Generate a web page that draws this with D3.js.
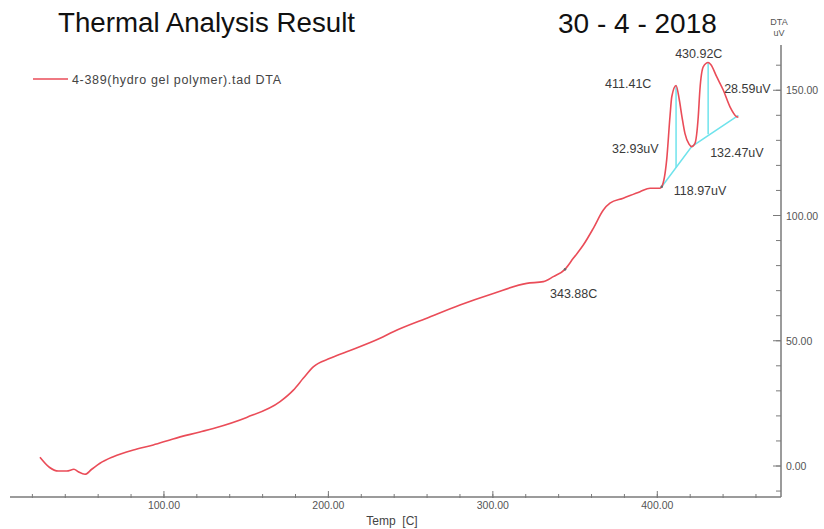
<!DOCTYPE html>
<html>
<head>
<meta charset="utf-8">
<script src="https://cdn.jsdelivr.net/npm/d3@7"></script>
<style>
  html, body { margin: 0; padding: 0; background: #fff; }
  svg { display: block; font-family: "Liberation Sans", Arial, sans-serif; }
</style>
</head>
<body>
<svg id="chart" width="824" height="529"></svg>
<script>
// ---- data ----
const temp = [24.6, 30.3, 35.8, 40.9, 45.3, 47.9, 52.0, 56.1, 61.1, 69.2, 81.4, 93.5, 105.5, 121.9, 130.0,
  150.3, 170.6, 178.7, 184.7, 190.8, 201.0, 211.1, 231.4, 239.5, 259.8, 280.0, 300.3, 320.6, 330.7, 336.8,
  343.88, 348.9, 355.0, 361.1, 367.2, 371.2, 379.3, 389.5, 395.6, 401.6, 402.7, 405.7, 407.7, 408.8, 411.41,
  413.3, 415.0, 416.8, 419.3, 420.9, 422.9, 424.9, 425.9, 428.0, 430.92, 432.5, 436.1, 440.1, 444.2, 448.3, 449.3];
const dta = [3.5, -0.5, -2.0, -2.0, -1.3, -2.3, -3.3, -1.3, 1.1, 3.7, 6.4, 8.4, 10.8, 13.6, 15.0,
  19.4, 25.7, 30.3, 35.0, 39.6, 43.0, 45.6, 51.0, 53.6, 59.0, 64.3, 68.9, 72.9, 73.6, 75.6,
  78.5, 82.9, 88.2, 94.9, 102.2, 104.9, 106.9, 109.5, 110.9, 110.9, 111.5, 122.2, 139.4, 147.4, 151.9,
  146.5, 139.4, 132.8, 128.5, 127.5, 128.8, 139.4, 150.1, 159.4, 161.06, 160.3, 155.4, 150.1, 143.4, 139.4, 139.2];

const baseT = [402.7, 420.9, 449.3];
const baseV = [111.5, 127.5, 140.0];

const peakT = [411.41, 430.92];
const peakTop = [151.9, 161.06];
const peakBase = [118.97, 132.47];

const xMajorTicks = [100, 200, 300, 400];
const xMinorTicks = d3.range(20, 480, 20);
const yMajorTicks = [0, 50, 100, 150];
const yMinorTicks = d3.range(-10, 170, 10);

const labelTexts = ["411.41C", "430.92C", "28.59uV", "32.93uV", "132.47uV", "118.97uV", "343.88C"];
const labelT = [411.41, 430.92, 430.92, 411.41, 430.92, 402.7, 343.88];
const labelV = [151.9, 161.06, 146.0, 135.0, 132.47, 111.5, 78.5];

const titleText = "Thermal Analysis Result";
const dateText = "30 - 4 - 2018";
const legendText = "4-389(hydro gel polymer).tad  DTA";
const xTitle = "Temp  [C]";
const yTitle = ["DTA", "uV"];

// ---- layout ----
const svg = d3.select("#chart");
const x = d3.scaleLinear().domain([0, 475]).range([-0.5, -0.5 + 1.6445 * 475]);
const y = d3.scaleLinear().domain([0, 160]).range([466, 466 - 2.505 * 160]);
const axisY = 497, axisX = 781;
const red = "#ea4c58", cyan = "#6fe3ec", axisCol = "#7a7a7a", txtCol = "#3a3a3a";

// title
svg.append("text").attr("x", 58).attr("y", 32).attr("font-size", 27.7).attr("fill", "#111").text(titleText);
svg.append("text").attr("x", 558).attr("y", 33).attr("font-size", 28).attr("fill", "#111").text(dateText);

// legend
svg.append("line").attr("x1", 33).attr("x2", 68).attr("y1", 79).attr("y2", 79)
  .attr("stroke", red).attr("stroke-width", 1.5);
svg.append("text").attr("x", 72).attr("y", 83.5).attr("font-size", 12.5).attr("fill", "#444")
  .attr("textLength", 209).text(legendText);

// x axis
svg.append("line").attr("x1", 10).attr("x2", axisX).attr("y1", axisY).attr("y2", axisY)
  .attr("stroke", axisCol).attr("stroke-width", 1.5);
const gx = svg.append("g");
gx.selectAll("line.minor").data(xMinorTicks.filter(t => x(t) < axisX - 2)).join("line")
  .attr("x1", d => x(d)).attr("x2", d => x(d)).attr("y1", axisY - 3).attr("y2", axisY + 1)
  .attr("stroke", axisCol).attr("stroke-width", 1);
gx.selectAll("line.major").data(xMajorTicks).join("line")
  .attr("x1", d => x(d)).attr("x2", d => x(d)).attr("y1", axisY - 6).attr("y2", axisY + 1)
  .attr("stroke", axisCol).attr("stroke-width", 1);
gx.selectAll("text").data(xMajorTicks).join("text")
  .attr("x", d => x(d)).attr("y", axisY + 12).attr("text-anchor", "middle")
  .attr("font-size", 10.5).attr("fill", "#555").text(d => d3.format(".2f")(d));
svg.append("text").attr("x", 392).attr("y", 525).attr("text-anchor", "middle")
  .attr("font-size", 12).attr("fill", "#444").attr("xml:space", "preserve").text(xTitle);

// y axis
svg.append("line").attr("x1", axisX).attr("x2", axisX).attr("y1", 45).attr("y2", axisY)
  .attr("stroke", axisCol).attr("stroke-width", 1.5);
const gy = svg.append("g");
gy.selectAll("line.minor").data(yMinorTicks).join("line")
  .attr("x1", axisX - 5).attr("x2", axisX).attr("y1", d => y(d)).attr("y2", d => y(d))
  .attr("stroke", axisCol).attr("stroke-width", 1);
gy.selectAll("line.major").data(yMajorTicks).join("line")
  .attr("x1", axisX - 8).attr("x2", axisX).attr("y1", d => y(d)).attr("y2", d => y(d))
  .attr("stroke", axisCol).attr("stroke-width", 1);
gy.selectAll("text").data(yMajorTicks).join("text")
  .attr("x", axisX + 5).attr("y", d => y(d) + 4)
  .attr("font-size", 10.5).attr("fill", "#555").text(d => d3.format(".2f")(d));
svg.append("text").attr("x", 779).attr("y", 25).attr("text-anchor", "middle")
  .attr("font-size", 9).attr("fill", "#555").text(yTitle[0]);
svg.append("text").attr("x", 779).attr("y", 36).attr("text-anchor", "middle")
  .attr("font-size", 9).attr("fill", "#555").text(yTitle[1]);

// baseline & peak heights (cyan)
const pts = temp.map((t, i) => [t, dta[i]]);
const basePts = baseT.map((t, i) => [t, baseV[i]]);
svg.append("path").datum(basePts)
  .attr("d", d3.line().x(d => x(d[0])).y(d => y(d[1])))
  .attr("fill", "none").attr("stroke", cyan).attr("stroke-width", 1.5);
svg.selectAll("line.peak").data(peakT).join("line")
  .attr("x1", d => x(d)).attr("x2", d => x(d))
  .attr("y1", (d, i) => y(peakTop[i])).attr("y2", (d, i) => y(peakBase[i]))
  .attr("stroke", cyan).attr("stroke-width", 1.5);

// curve
svg.append("path").datum(pts)
  .attr("d", d3.line().x(d => x(d[0])).y(d => y(d[1])).curve(d3.curveMonotoneX))
  .attr("fill", "none").attr("stroke", red).attr("stroke-width", 1.6);

// marker dots
svg.selectAll("circle.mk").data([[343.88, 78.5], [402.7, 111.5]]).join("circle")
  .attr("cx", d => x(d[0])).attr("cy", d => y(d[1])).attr("r", 1.3).attr("fill", "#6a6a6a");

// annotations
const labelDx = [-71, -33, 16, -64, 2, 12, -15];
const labelDy = [3, -5, -7, 25, 23, 8, 28.5];
svg.selectAll("text.ann").data(labelTexts).join("text")
  .attr("x", (d, i) => x(labelT[i]) + labelDx[i])
  .attr("y", (d, i) => y(labelV[i]) + labelDy[i])
  .attr("font-size", 12.5).attr("fill", txtCol).text(d => d);
</script>
</body>
</html>
